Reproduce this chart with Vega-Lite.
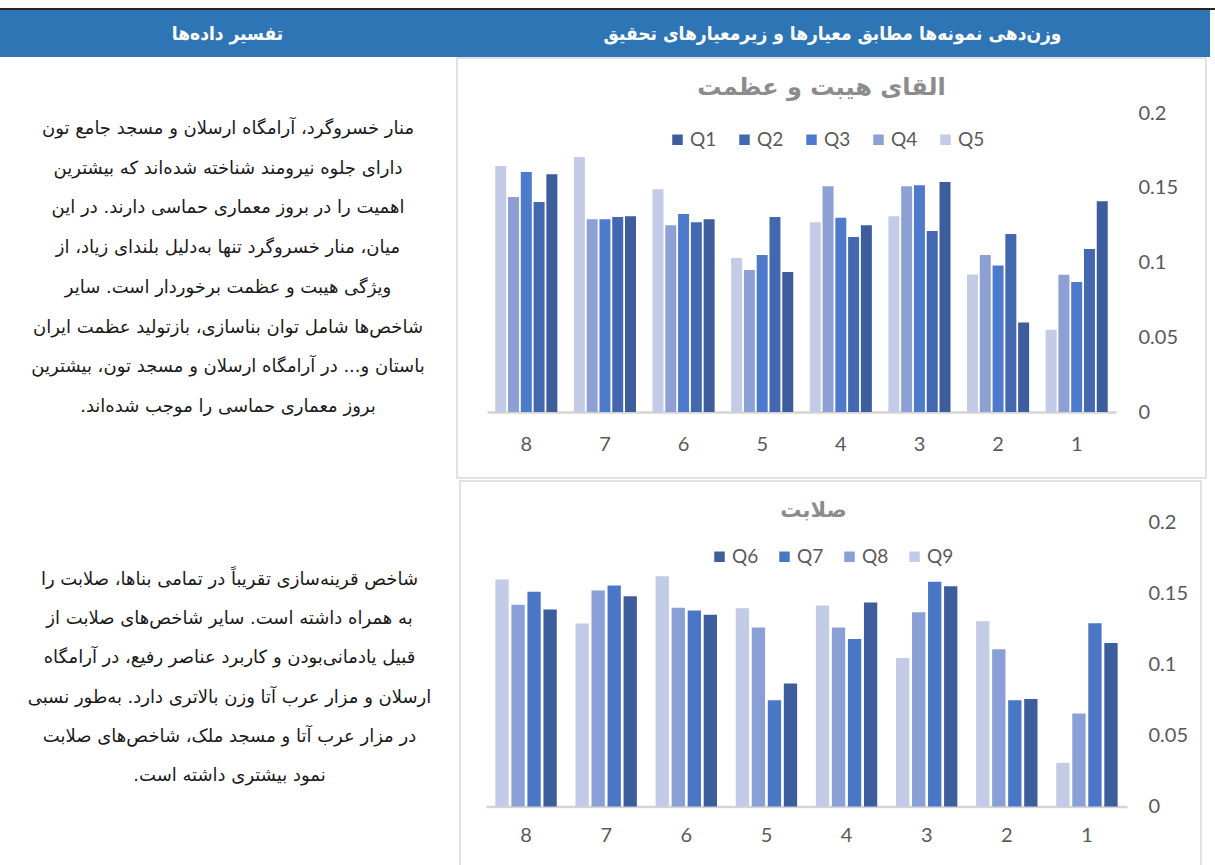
{
  "$schema": "https://vega.github.io/schema/vega-lite/v6.json",
  "padding": {"top": 8, "left": 0, "right": 0, "bottom": 0},
  "background": "white",
  "spacing": 0,
  "resolve": {"scale": {"color": "independent", "xOffset": "independent"}, "legend": {"color": "independent"}},
  "config": {"view": {"stroke": null}, "concat": {"spacing": 0}},
  "datasets": {
    "top": [
      {"g": "8", "q": "Q1", "v": 0.159}, {"g": "8", "q": "Q2", "v": 0.1405}, {"g": "8", "q": "Q3", "v": 0.1605}, {"g": "8", "q": "Q4", "v": 0.1438}, {"g": "8", "q": "Q5", "v": 0.1645},
      {"g": "7", "q": "Q1", "v": 0.131}, {"g": "7", "q": "Q2", "v": 0.1304}, {"g": "7", "q": "Q3", "v": 0.129}, {"g": "7", "q": "Q4", "v": 0.129}, {"g": "7", "q": "Q5", "v": 0.1706},
      {"g": "6", "q": "Q1", "v": 0.129}, {"g": "6", "q": "Q2", "v": 0.127}, {"g": "6", "q": "Q3", "v": 0.1324}, {"g": "6", "q": "Q4", "v": 0.125}, {"g": "6", "q": "Q5", "v": 0.149},
      {"g": "5", "q": "Q1", "v": 0.0936}, {"g": "5", "q": "Q2", "v": 0.1304}, {"g": "5", "q": "Q3", "v": 0.105}, {"g": "5", "q": "Q4", "v": 0.095}, {"g": "5", "q": "Q5", "v": 0.103},
      {"g": "4", "q": "Q1", "v": 0.125}, {"g": "4", "q": "Q2", "v": 0.117}, {"g": "4", "q": "Q3", "v": 0.130}, {"g": "4", "q": "Q4", "v": 0.151}, {"g": "4", "q": "Q5", "v": 0.127},
      {"g": "3", "q": "Q1", "v": 0.1538}, {"g": "3", "q": "Q2", "v": 0.121}, {"g": "3", "q": "Q3", "v": 0.1516}, {"g": "3", "q": "Q4", "v": 0.151}, {"g": "3", "q": "Q5", "v": 0.131},
      {"g": "2", "q": "Q1", "v": 0.0598}, {"g": "2", "q": "Q2", "v": 0.119}, {"g": "2", "q": "Q3", "v": 0.098}, {"g": "2", "q": "Q4", "v": 0.105}, {"g": "2", "q": "Q5", "v": 0.092},
      {"g": "1", "q": "Q1", "v": 0.141}, {"g": "1", "q": "Q2", "v": 0.109}, {"g": "1", "q": "Q3", "v": 0.087}, {"g": "1", "q": "Q4", "v": 0.0918}, {"g": "1", "q": "Q5", "v": 0.055}
    ],
    "bottom": [
      {"g": "8", "q": "Q6", "v": 0.1385}, {"g": "8", "q": "Q7", "v": 0.151}, {"g": "8", "q": "Q8", "v": 0.1418}, {"g": "8", "q": "Q9", "v": 0.1595},
      {"g": "7", "q": "Q6", "v": 0.1478}, {"g": "7", "q": "Q7", "v": 0.1553}, {"g": "7", "q": "Q8", "v": 0.1518}, {"g": "7", "q": "Q9", "v": 0.1287},
      {"g": "6", "q": "Q6", "v": 0.1348}, {"g": "6", "q": "Q7", "v": 0.1378}, {"g": "6", "q": "Q8", "v": 0.1397}, {"g": "6", "q": "Q9", "v": 0.1619},
      {"g": "5", "q": "Q6", "v": 0.0864}, {"g": "5", "q": "Q7", "v": 0.0747}, {"g": "5", "q": "Q8", "v": 0.1259}, {"g": "5", "q": "Q9", "v": 0.1394},
      {"g": "4", "q": "Q6", "v": 0.1434}, {"g": "4", "q": "Q7", "v": 0.1177}, {"g": "4", "q": "Q8", "v": 0.1259}, {"g": "4", "q": "Q9", "v": 0.1413},
      {"g": "3", "q": "Q6", "v": 0.1548}, {"g": "3", "q": "Q7", "v": 0.158}, {"g": "3", "q": "Q8", "v": 0.1366}, {"g": "3", "q": "Q9", "v": 0.1044},
      {"g": "2", "q": "Q6", "v": 0.0756}, {"g": "2", "q": "Q7", "v": 0.0747}, {"g": "2", "q": "Q8", "v": 0.1105}, {"g": "2", "q": "Q9", "v": 0.1303},
      {"g": "1", "q": "Q6", "v": 0.1149}, {"g": "1", "q": "Q7", "v": 0.1289}, {"g": "1", "q": "Q8", "v": 0.0653}, {"g": "1", "q": "Q9", "v": 0.0307}
    ]
  },
  "vconcat": [
    {
      "width": 1215, "height": 2,
      "view": {"fill": "#262626", "stroke": null},
      "data": {"values": []},
      "mark": {"type": "rect"},
      "encoding": {}
    },
    {
      "spacing": 0,
      "resolve": {"scale": {"color": "independent", "xOffset": "independent"}, "legend": {"color": "independent"}},
      "hconcat": [
        {
          "width": 455, "height": 47,
          "view": {"fill": "#2e75b6", "stroke": null},
          "data": {"values": [{"t": "تفسیر داده\u200cها"}]},
          "mark": {"type": "text", "font": "DejaVu Sans Condensed, DejaVu Sans", "fontWeight": "bold", "fontSize": 19, "color": "white", "align": "center", "baseline": "middle"},
          "encoding": {"text": {"field": "t"}}
        },
        {
          "width": 755, "height": 47,
          "view": {"fill": "#2e75b6", "stroke": null},
          "data": {"values": [{"t": "وزن\u200cدهی نمونه\u200cها مطابق معیارها و زیرمعیارهای تحقیق"}]},
          "mark": {"type": "text", "font": "DejaVu Sans Condensed, DejaVu Sans", "fontWeight": "bold", "fontSize": 19, "color": "white", "align": "center", "baseline": "middle"},
          "encoding": {"text": {"field": "t"}}
        }
      ]
    },
    {
      "spacing": 0,
      "resolve": {"scale": {"color": "independent", "xOffset": "independent"}, "legend": {"color": "independent"}},
      "hconcat": [
        {
          "width": 456, "height": 420,
          "data": {"values": [{"t": "منار خسروگرد، آرامگاه ارسلان و مسجد جامع تون\nدارای جلوه نیرومند شناخته شده\u200cاند که بیشترین\nاهمیت را در بروز معماری حماسی دارند. در این\nمیان، منار خسروگرد تنها به\u200cدلیل بلندای زیاد، از\nویژگی هیبت و عظمت برخوردار است. سایر\nشاخص\u200cها شامل توان بناسازی، بازتولید عظمت ایران\nباستان و... در آرامگاه ارسلان و مسجد تون، بیشترین\nبروز معماری حماسی را موجب شده\u200cاند.\u200f"}]},
          "mark": {"type": "text", "lineBreak": "\n", "lineHeight": 39.7, "font": "DejaVu Sans", "fontSize": 18, "color": "#1a1a1a", "align": "center", "baseline": "middle", "dy": -139},
          "encoding": {"text": {"field": "t"}}
        },
        {
          "width": 749, "height": 420,
          "view": {"stroke": "#d9d9d9", "strokeWidth": 1.5},
          "data": {"name": "top"},
          "title": {"text": "القای هیبت و عظمت", "frame": "group", "anchor": "middle", "offset": -42, "dx": -10, "fontSize": 24, "font": "DejaVu Sans", "fontWeight": "bold", "color": "#8c8c8c"},
          "mark": {"type": "bar"},
          "encoding": {
            "x": {"field": "g", "type": "nominal", "sort": ["8", "7", "6", "5", "4", "3", "2", "1"],
              "scale": {"range": [30, 659], "paddingInner": 0.21, "paddingOuter": 0.105},
              "axis": {"orient": "bottom", "offset": -66, "title": null, "labelAngle": 0, "ticks": false, "domainColor": "#d4d4d4", "domainWidth": 2.5, "labelPadding": 22, "labelFontSize": 20, "labelColor": "#595959", "labelFont": "Lato"}},
            "xOffset": {"field": "q", "sort": ["Q5", "Q4", "Q3", "Q2", "Q1"], "scale": {"paddingInner": 0.14, "paddingOuter": 0}},
            "y": {"field": "v", "type": "quantitative",
              "scale": {"domain": [0, 0.2], "range": [354, 55], "nice": false, "zero": true},
              "axis": {"orient": "right", "offset": -68, "values": [0, 0.05, 0.1, 0.15, 0.2], "format": "~g", "domain": false, "ticks": false, "grid": false, "title": null, "labelPadding": 0, "labelFontSize": 20, "labelColor": "#595959", "labelFont": "Lato", "labelOverlap": false, "labelFlush": false}},
            "color": {"field": "q", "type": "nominal",
              "scale": {"domain": ["Q1", "Q2", "Q3", "Q4", "Q5"], "range": ["#3d5d9c", "#4468b0", "#4d7acb", "#8da0d4", "#c3cbe6"]},
              "legend": {"orient": "none", "legendX": 211, "legendY": 72, "direction": "horizontal", "title": null, "symbolType": "square", "symbolSize": 110, "symbolStrokeWidth": 0, "labelFontSize": 19, "labelColor": "#595959", "labelFont": "Lato", "columnPadding": 18, "labelOffset": 3}}
          }
        }
      ]
    },
    {
      "width": 10, "height": 1,
      "data": {"values": []},
      "mark": {"type": "rect"},
      "encoding": {}
    },
    {
      "spacing": 0,
      "resolve": {"scale": {"color": "independent", "xOffset": "independent"}, "legend": {"color": "independent"}},
      "hconcat": [
        {
          "width": 459, "height": 390,
          "data": {"values": [{"t": "شاخص قرینه\u200cسازی تقریباً در تمامی بناها، صلابت را\nبه همراه داشته است. سایر شاخص\u200cهای صلابت از\nقبیل یادمانی\u200cبودن و کاربرد عناصر رفیع، در آرامگاه\nارسلان و مزار عرب آتا وزن بالاتری دارد. به\u200cطور نسبی\nدر مزار عرب آتا و مسجد ملک، شاخص\u200cهای صلابت\nنمود بیشتری داشته است.\u200f"}]},
          "mark": {"type": "text", "lineBreak": "\n", "lineHeight": 39.2, "font": "DejaVu Sans", "fontSize": 18, "color": "#1a1a1a", "align": "center", "baseline": "middle", "dy": -96},
          "encoding": {"text": {"field": "t"}}
        },
        {
          "width": 741, "height": 390,
          "view": {"stroke": "#d9d9d9", "strokeWidth": 1.5},
          "data": {"name": "bottom"},
          "title": {"text": "صلابت", "frame": "group", "anchor": "middle", "offset": -40, "dx": -17, "fontSize": 21, "font": "DejaVu Sans", "fontWeight": "bold", "color": "#8c8c8c"},
          "mark": {"type": "bar"},
          "encoding": {
            "x": {"field": "g", "type": "nominal", "sort": ["8", "7", "6", "5", "4", "3", "2", "1"],
              "scale": {"range": [26, 667], "paddingInner": 0.234, "paddingOuter": 0.117},
              "axis": {"orient": "bottom", "offset": -64.5, "title": null, "labelAngle": 0, "ticks": false, "domainColor": "#d4d4d4", "domainWidth": 2.5, "labelPadding": 19, "labelFontSize": 20, "labelColor": "#595959", "labelFont": "Lato"}},
            "xOffset": {"field": "q", "sort": ["Q9", "Q8", "Q7", "Q6"], "scale": {"paddingInner": 0.17, "paddingOuter": 0}},
            "y": {"field": "v", "type": "quantitative",
              "scale": {"domain": [0, 0.2], "range": [325.5, 41], "nice": false, "zero": true},
              "axis": {"orient": "right", "offset": -53, "values": [0, 0.05, 0.1, 0.15, 0.2], "format": "~g", "domain": false, "ticks": false, "grid": false, "title": null, "labelPadding": 0, "labelFontSize": 20, "labelColor": "#595959", "labelFont": "Lato", "labelOverlap": false, "labelFlush": false}},
            "color": {"field": "q", "type": "nominal",
              "scale": {"domain": ["Q6", "Q7", "Q8", "Q9"], "range": ["#3d5d9c", "#4a76c6", "#8a9fd6", "#c3cbe6"]},
              "legend": {"orient": "none", "legendX": 250, "legendY": 66, "direction": "horizontal", "title": null, "symbolType": "square", "symbolSize": 110, "symbolStrokeWidth": 0, "labelFontSize": 19, "labelColor": "#595959", "labelFont": "Lato", "columnPadding": 16, "labelOffset": 3}}
          }
        }
      ]
    }
  ]
}
